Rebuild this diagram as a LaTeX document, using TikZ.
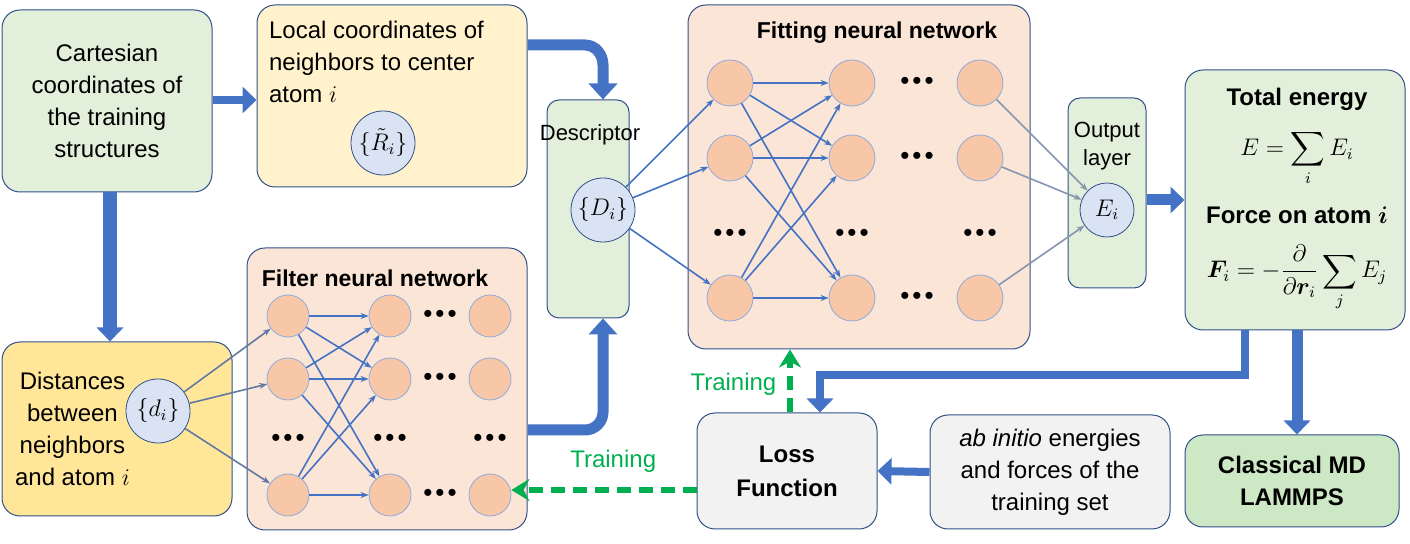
\documentclass[tikz,border=0pt]{standalone}
\usepackage{amsmath,bm}
\usepackage{fontspec}
\setmainfont{Liberation Sans}
\usetikzlibrary{arrows.meta,positioning,calc}
\definecolor{blu}{RGB}{68,114,196}
\definecolor{grn}{RGB}{226,239,218}
\definecolor{grnd}{RGB}{204,232,196}
\definecolor{ylw}{RGB}{255,242,204}
\definecolor{ylwd}{RGB}{255,230,153}
\definecolor{pch}{RGB}{251,229,214}
\definecolor{neu}{RGB}{247,199,167}
\definecolor{gry}{RGB}{242,242,242}
\definecolor{cir}{RGB}{218,227,243}
\definecolor{trn}{RGB}{0,176,80}
\tikzset{
  panel/.style={draw=blu!70!black, rounded corners=9pt, line width=0.5pt},
  neuron/.style={circle, draw=blu!60, fill=neu, minimum size=21pt, inner sep=0pt},
  var/.style={circle, draw=blu!70!black, fill=cir, minimum size=32pt, inner sep=0pt},
  link/.style={blu, line width=0.8pt, -{Stealth[length=4pt]}},
  block/.style={blu, line width=5.5pt, -{Triangle[length=7pt,width=13pt]}},
  train/.style={trn, line width=3pt, dash pattern=on 7pt off 4pt, -{Stealth[length=9pt,width=11pt]}},
  dotsn/.style={font=\fontsize{13}{13}\selectfont},
}
\newcommand{\tdots}{\textbullet\kern1.5pt\textbullet\kern1.5pt\textbullet}
\begin{document}
\begin{tikzpicture}[x=0.5pt,y=-0.5pt,font=\fontsize{12}{16}\selectfont]
\useasboundingbox (0,0) rectangle (1410,544);
% panels
\node[panel, fill=grn, minimum width=105pt, minimum height=91pt, align=center] (cart) at (107,101)
  {Cartesian\\coordinates of\\the training\\structures};
\node[panel, fill=ylw, minimum width=135pt, minimum height=91pt] (loc) at (392,96) {};
\node[anchor=north west, align=left] at (262,14) {Local coordinates of\\neighbors to center\\atom $i$};
\node[panel, fill=ylwd, minimum width=115pt, minimum height=87pt] (dist) at (117,429) {};
\node[anchor=west, align=center] at (8,429) {Distances\\between\\neighbors\\and atom $i$};
\node[panel, fill=pch, minimum width=140pt, minimum height=141pt] (filt) at (387,389) {};
\node[font=\bfseries\fontsize{11.5}{14}\selectfont] at (375,278) {Filter neural network};
\node[panel, fill=grn, minimum width=41pt, minimum height=109pt, rounded corners=6pt] (desc) at (588,209) {};
\node[font=\fontsize{11}{14}\selectfont] at (590,135) {Descriptor};
\node[panel, fill=pch, minimum width=171pt, minimum height=172pt] (fit) at (859,177) {};
\node[font=\bfseries\fontsize{11.5}{14}\selectfont] at (877,33) {Fitting neural network};
\node[panel, fill=grn, minimum width=39pt, minimum height=95pt, rounded corners=6pt] (outl) at (1107,193) {};
\node[align=center, font=\fontsize{11}{14}\selectfont] at (1107,146) {Output\\layer};
\node[panel, fill=grn, minimum width=110pt, minimum height=130pt] (tot) at (1295,200) {};
\node[font=\bfseries\fontsize{12}{14}\selectfont] at (1297,99) {Total energy};
\node at (1297,158) {$E=\displaystyle\sum_i E_i$};
\node[font=\bfseries\fontsize{12}{14}\selectfont] at (1297,215) {Force on atom $\bm{i}$};
\node at (1297,278) {$\bm{F}_i=-\dfrac{\partial}{\partial \bm{r}_i}\displaystyle\sum_j E_j$};
\node[panel, fill=grnd, minimum width=107pt, minimum height=46pt, align=center,
  font=\bfseries\fontsize{12}{16}\selectfont] (md) at (1292,481) {Classical MD\\LAMMPS};
\node[panel, fill=gry, minimum width=90pt, minimum height=58pt, align=center,
  font=\bfseries\fontsize{12}{17}\selectfont] (loss) at (787,471) {Loss\\Function};
\node[panel, fill=gry, minimum width=120pt, minimum height=57pt, align=center] (abi) at (1050,472)
  {\textit{ab initio} energies\\and forces of the\\training set};
% variables
\node[var] (R) at (383,143) {$\{\tilde R_i\}$};
\node[var] (d) at (158,411) {$\{d_i\}$};
\node[var] (D) at (603,210) {$\{D_i\}$};
\node[var, minimum size=27pt] (E) at (1107,210) {$E_i$};
% filter network
\foreach \c/\x in {1/288,2/390,3/490}{
  \foreach \r/\y in {1/316,2/379,3/495}
    \node[neuron] (f\c\r) at (\x,\y) {};
  \node[dotsn] at (\x,440) {\tdots};
}
\foreach \r/\y in {1/316,2/379,3/495}
  \node[dotsn] at (440,\y) {\tdots};
% fitting network
\foreach \c/\x in {1/730,2/852,3/980}{
  \foreach \r/\y in {1/83,2/158,3/298}
    \node[neuron, minimum size=23pt] (n\c\r) at (\x,\y) {};
  \node[dotsn] at (\x,235) {\tdots};
}
\foreach \r/\y in {1/83,2/158,3/298}
  \node[dotsn] at (917,\y) {\tdots};
% links
\foreach \r in {1,2,3}{
  \draw[link, draw=blu!50!gray] (d) -- (f1\r);
  \draw[link] (D) -- (n1\r);
  \draw[link, draw=blu!40!gray!80] (n3\r) -- (E);
  \foreach \s in {1,2,3}{
    \draw[link] (f1\r) -- (f2\s);
    \draw[link] (n1\r) -- (n2\s);
  }
}
% block arrows
\draw[block, line width=4pt] (cart.east |- 0,100) -- (loc.west |- 0,100);
\draw[block, line width=7pt] (110,192) -- (dist.north -| 110,0);
\draw[block, -{Triangle[length=8pt,width=14pt]}] (528,45) -- (585,45) to[out=0,in=90] (603,65) -- (desc.north -| 603,0);
\draw[block, -{Triangle[length=8pt,width=14pt]}] (528,430) -- (585,430) to[out=0,in=-90] (603,412) -- (desc.south -| 603,0);
\draw[block] (outl.east |- 0,200) -- (tot.west |- 0,200);
\draw[block] (tot.south -| 1297,0) -- (md.north -| 1297,0);
\draw[block, line width=4pt] (1245,330) -- (1245,375) -- (820,375) -- (loss.north -| 820,0);
\draw[block, line width=4pt] (abi.west) -- (loss.east);
% training
\draw[train] (loss.north -| 790,0) -- (fit.south -| 790,0) node[pos=0.45, left=2pt, text=trn] {Training};
\draw[train] (loss.west |- 0,490) -- (f33.east |- 0,490) node[pos=0.45, above=4pt, text=trn] {Training};
\end{tikzpicture}
\end{document}
